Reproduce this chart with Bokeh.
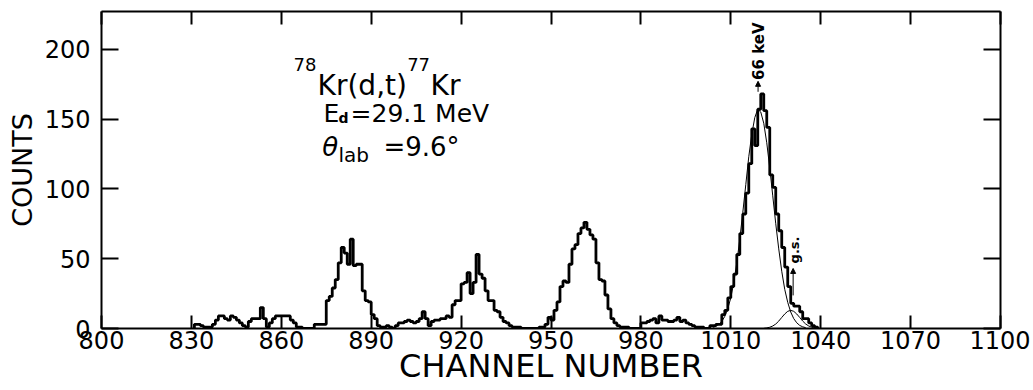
from math import pi
from bokeh.plotting import figure
from bokeh.models import (Range1d, FixedTicker, LinearAxis, Label, Arrow,
                          NormalHead, CustomJSTickFormatter)
from bokeh.embed import file_html
from bokeh.resources import INLINE

# ---------------- data ----------------
first_channel = 831
counts = [
    3, 3, 2, 1, 1, 1, 3, 6, 9, 9,          # 831-840
    7, 6, 9, 8, 6, 4, 2, 1, 5, 7,          # 841-850
    7, 7, 15, 7, 1, 4, 7, 9, 9, 9,         # 851-860
    9, 9, 6, 4, 1, 1, 0, 0, 0, 0,          # 861-870
    3, 3, 3, 3, 20, 23, 29, 35, 47, 58,    # 871-880
    54, 46, 64, 45, 46, 46, 27, 20, 19, 10,  # 881-890
    7, 2, 1, 1, 2, 1, 0, 2, 4, 4,          # 891-900
    5, 6, 5, 4, 5, 7, 12, 7, 2, 5,         # 901-910
    6, 6, 7, 7, 9, 8, 17, 20, 20, 32,      # 911-920
    33, 40, 25, 33, 53, 39, 36, 27, 20, 20,  # 921-930
    13, 12, 8, 5, 4, 2, 1, 1, 1, 0,        # 931-940
    0, 0, 0, 0, 0, 1, 1, 3, 8, 6,          # 941-950
    13, 19, 30, 34, 33, 46, 57, 60, 68, 72,  # 951-960
    76, 71, 67, 64, 47, 35, 34, 24, 14, 7,   # 961-970
    4, 2, 1, 1, 1, 0, 0, 0, 0, 4,          # 971-980
    4, 5, 6, 7, 4, 9, 6, 6, 5, 5,          # 981-990
    6, 8, 5, 6, 4, 3, 2, 1, 1, 1,          # 991-1000
    0, 0, 2, 2, 3, 3, 10, 13, 22, 30,      # 1001-1010
    39, 53, 68, 82, 97, 118, 143, 131, 157, 168,  # 1011-1020
    156, 144, 110, 101, 82, 70, 58, 44, 30, 18,   # 1021-1030
    16, 16, 12, 7, 7, 4, 2, 1,             # 1031-1038
]
channels = list(range(first_channel, first_channel + len(counts)))

# fitted line shapes
fit_main_x = [1004, 1005, 1006, 1007, 1008, 1009, 1010, 1011, 1012, 1013,
              1014, 1015, 1016, 1017, 1018, 1019, 1020, 1021, 1022, 1023,
              1024, 1025, 1026, 1027, 1028, 1029, 1030, 1031, 1032, 1033,
              1034, 1035]
fit_main_y = [0.8, 1.5, 2.9, 5.1, 8.7, 14.2, 22, 33, 47, 64,
              83, 103, 123, 139, 151, 157, 155, 147, 133, 115,
              95, 75, 57, 41, 28, 18.7, 11.8, 7.1, 4.1, 2.2,
              1.2, 0.6]
fit_gs_x = [1021, 1022, 1023, 1024, 1025, 1026, 1027, 1028, 1029, 1030,
            1031, 1032, 1033, 1034, 1035, 1036, 1037, 1038, 1039]
fit_gs_y = [0.1, 0.4, 0.9, 1.8, 3.2, 5.3, 7.9, 10.4, 12.3, 13,
            12.3, 10.4, 7.9, 5.3, 3.2, 1.8, 0.9, 0.4, 0.1]

x_ticks = [800, 830, 860, 890, 920, 950, 980, 1010, 1040, 1070, 1100]
y_ticks = [0, 50, 100, 150, 200]
x_label = "CHANNEL NUMBER"
y_label = "COUNTS"

FONT = "DejaVu Sans"

# ---------------- figure ----------------
p = figure(width=1030, height=390,
           x_range=Range1d(800, 1100), y_range=Range1d(0, 227),
           output_backend="svg", toolbar_location=None,
           min_border_left=101, min_border_right=30,
           min_border_top=11, min_border_bottom=62)
p.xgrid.visible = False
p.ygrid.visible = False
p.outline_line_color = None
p.background_fill_color = "white"
p.border_fill_color = "white"


def style_axis(ax, tick_len):
    ax.axis_line_width = 2
    ax.axis_line_color = "black"
    ax.major_tick_line_width = 2
    ax.major_tick_line_color = "black"
    ax.major_tick_in = tick_len
    ax.major_tick_out = 0
    ax.minor_tick_in = 0
    ax.minor_tick_out = 0
    ax.minor_tick_line_color = None
    ax.major_label_text_font = FONT
    ax.major_label_text_font_size = "24px"
    ax.major_label_text_color = "black"


p.xaxis.ticker = FixedTicker(ticks=x_ticks)
p.yaxis.ticker = FixedTicker(ticks=y_ticks)
style_axis(p.xaxis[0], 13)
style_axis(p.yaxis[0], 17)
p.xaxis.major_label_standoff = 2
p.yaxis.major_label_standoff = 11

p.xaxis.axis_label = x_label
p.xaxis.axis_label_text_font = FONT
p.xaxis.axis_label_text_font_size = "32px"
p.xaxis.axis_label_text_font_style = "normal"
p.xaxis.axis_label_text_color = "black"
p.xaxis.axis_label_standoff = -5

p.yaxis.axis_label = y_label
p.yaxis.axis_label_text_font = FONT
p.yaxis.axis_label_text_font_size = "27px"
p.yaxis.axis_label_text_font_style = "normal"
p.yaxis.axis_label_text_color = "black"
p.yaxis.axis_label_standoff = 4

for loc, ticks, tlen in (("right", y_ticks, 17), ("above", x_ticks, 13)):
    ax = LinearAxis(ticker=FixedTicker(ticks=ticks),
                    formatter=CustomJSTickFormatter(code="return ''"))
    style_axis(ax, tlen)
    ax.major_label_text_font_size = "0px"
    ax.major_label_standoff = 0
    p.add_layout(ax, loc)

# histogram
step_x = [channels[0]] + channels + [channels[-1] + 1]
step_y = [0] + counts + [0]
p.step(step_x, step_y, mode="after", line_color="black", line_width=2.8)

# fits
p.line(fit_main_x, fit_main_y, line_color="black", line_width=1)
p.line(fit_gs_x, fit_gs_y, line_color="black", line_width=1)


def lab(x, y, text, size, style="normal", angle=0.0, align="left",
        baseline="alphabetic"):
    p.add_layout(Label(x=x, y=y, text=text, text_font=FONT,
                       text_font_size=size, text_font_style=style,
                       angle=angle, text_align=align, text_baseline=baseline,
                       text_color="black"))


# reaction block
lab(864.1, 189.2, "78", "18px")
lab(872.1, 174.2, "Kr(d,t)", "28px")
lab(902.0, 189.2, "77", "18px")
lab(909.8, 174.2, "Kr", "28px")
lab(874.1, 154.1, "E", "25px")
lab(879.1, 150.5, "d", "14px", "bold")
lab(883.1, 154.1, "=29.1 MeV", "25px")
lab(873.7, 129.7, "θ", "26px", "italic")
lab(879.1, 124.0, "lab", "20px")
lab(894.1, 129.7, "=9.6°", "26px")

# peak annotations
lab(1019.3, 178, "66 keV", "15px", "bold", angle=pi / 2, baseline="middle")
p.add_layout(Arrow(x_start=1019.1, y_start=169.5, x_end=1019.1, y_end=177,
                   line_width=1, line_color="black",
                   end=NormalHead(size=5, line_color="black",
                                  fill_color="black")))
lab(1031.1, 46.6, "g.s.", "13px", "bold", angle=pi / 2, baseline="middle")
p.add_layout(Arrow(x_start=1030.8, y_start=23.7, x_end=1030.8, y_end=43,
                   line_width=1, line_color="black",
                   end=NormalHead(size=5, line_color="black",
                                  fill_color="black")))

open("out.html", "w").write(file_html(p, INLINE))
